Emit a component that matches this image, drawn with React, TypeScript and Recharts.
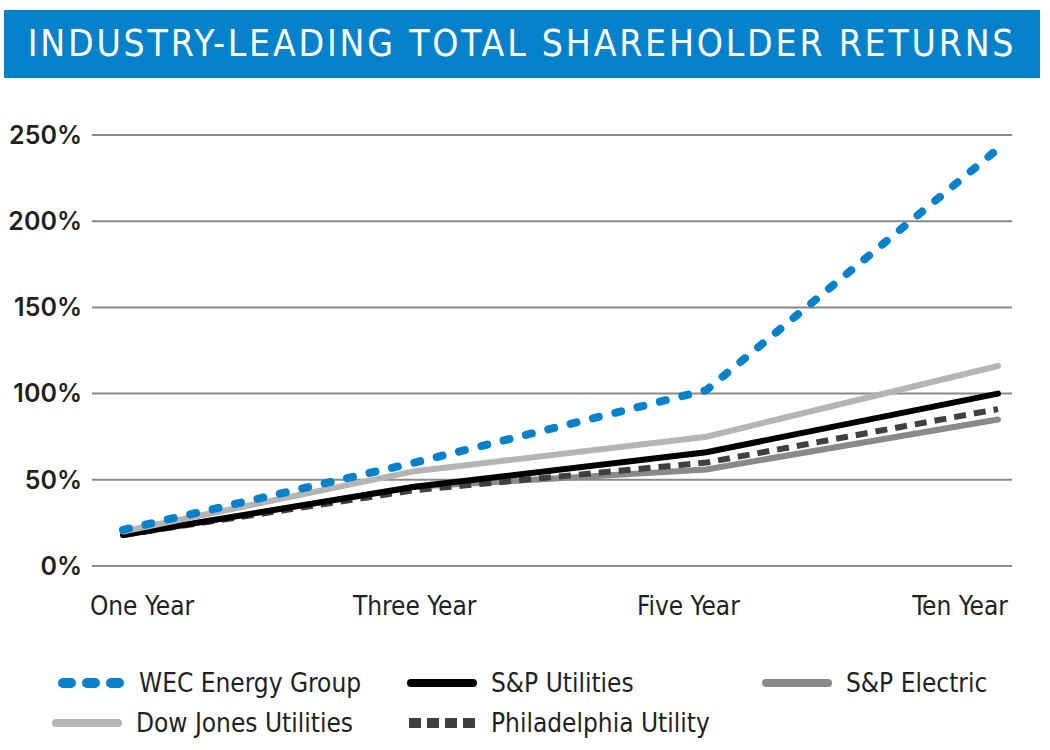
import { CartesianGrid, Line, LineChart, XAxis, YAxis } from "recharts";

const PERIODS = ["One Year", "Three Year", "Five Year", "Ten Year"];
const WEC = [21, 60, 102, 242];
const DOW_JONES = [20, 55, 75, 116];
const SP_UTILITIES = [18, 46, 66, 100];
const PHILADELPHIA = [18, 44, 60, 91];
const SP_ELECTRIC = [18, 46, 56, 85];
const Y_TICKS = [0, 50, 100, 150, 200, 250];

const BLUE = "#0481cb";
const LIGHT = "#b5b5b5";
const MID = "#8a8a8a";
const DARK = "#404040";
const INK = "#231f20";
const NARROW = '"Liberation Sans Narrow", "DejaVu Sans Condensed", "Roboto Condensed", sans-serif';

// labels in the source sit on an even grid that doesn't line up with the points
const TICK_NUDGE = [19, 0, -18, -38];

const data = PERIODS.map((p, i) => ({
  p,
  wec: WEC[i],
  dow: DOW_JONES[i],
  spu: SP_UTILITIES[i],
  phl: PHILADELPHIA[i],
  spe: SP_ELECTRIC[i],
}));

function PeriodTick(props: any) {
  const { x, y, payload, index } = props;
  return (
    <text x={x + (TICK_NUDGE[index] ?? 0)} y={y} dy={41} textAnchor="middle" fontSize={26} fill={INK} fontFamily={NARROW}>
      {payload.value}
    </text>
  );
}

function Swatch({ kind, color }: { kind: "dots" | "solid" | "squares"; color: string }) {
  return (
    <svg width={70} height={14} style={{ display: "block" }}>
      {kind === "dots" && (
        <line x1={8} y1={7} x2={64} y2={7} stroke={color} strokeWidth={10} strokeLinecap="round" strokeDasharray="8 16" />
      )}
      {kind === "solid" && <line x1={4} y1={7} x2={66} y2={7} stroke={color} strokeWidth={8} strokeLinecap="round" />}
      {kind === "squares" && (
        <line x1={2} y1={7} x2={68} y2={7} stroke={color} strokeWidth={10} strokeDasharray="12 6" />
      )}
    </svg>
  );
}

const LEGEND = [
  { name: "WEC Energy Group", kind: "dots", color: BLUE, left: 55, top: 683 },
  { name: "S&P Utilities", kind: "solid", color: "#000", left: 407, top: 683 },
  { name: "S&P Electric", kind: "solid", color: MID, left: 762, top: 683 },
  { name: "Dow Jones Utilities", kind: "solid", color: LIGHT, left: 52, top: 723 },
  { name: "Philadelphia Utility", kind: "squares", color: DARK, left: 407, top: 723 },
] as const;

export default function App() {
  return (
    <div style={{ position: "absolute", left: 0, top: 0, width: 1050, height: 750, background: "#fff", overflow: "hidden" }}>
      <div
        style={{
          position: "absolute",
          left: 4,
          top: 10,
          width: 1036,
          height: 68,
          background: BLUE,
          color: "#fff",
          fontFamily: NARROW,
          fontSize: 37,
          letterSpacing: 2.8,
          lineHeight: "68px",
          textAlign: "center",
        }}
      >
        INDUSTRY-LEADING TOTAL SHAREHOLDER RETURNS
      </div>

      <div style={{ position: "absolute", left: 0, top: 0 }}>
        <LineChart width={1050} height={640} data={data} margin={{ top: 135, right: 38, bottom: 34, left: 8 }}>
          <CartesianGrid stroke="#8a8a8a" strokeWidth={2} vertical={false} />
          <XAxis
            dataKey="p"
            axisLine={false}
            tickLine={false}
            padding={{ left: 31, right: 14 }}
            tick={<PeriodTick />}
            height={40}
            interval={0}
          />
          <YAxis
            domain={[0, 250]}
            ticks={Y_TICKS}
            axisLine={false}
            tickLine={false}
            tickMargin={4}
            width={84}
            tickFormatter={(v) => `${v}%`}
            tick={{ fontSize: 25, fill: INK, fontFamily: "Inter", fontWeight: 600 }}
          />
          <Line dataKey="spe" stroke={MID} strokeWidth={6} dot={false} isAnimationActive={false} strokeLinecap="round" />
          <Line dataKey="phl" stroke={DARK} strokeWidth={6} strokeDasharray="12 8" dot={false} isAnimationActive={false} />
          <Line dataKey="spu" stroke="#000" strokeWidth={6} dot={false} isAnimationActive={false} strokeLinecap="round" />
          <Line dataKey="dow" stroke={LIGHT} strokeWidth={6} dot={false} isAnimationActive={false} strokeLinecap="round" />
          <Line
            dataKey="wec"
            stroke={BLUE}
            strokeWidth={8}
            strokeDasharray="6 17"
            strokeLinecap="round"
            dot={false}
            isAnimationActive={false}
          />
        </LineChart>
      </div>

      {LEGEND.map((l) => (
        <div
          key={l.name}
          style={{
            position: "absolute",
            left: l.left,
            top: l.top - 20,
            height: 40,
            display: "flex",
            alignItems: "center",
            gap: 14,
            fontFamily: NARROW,
            fontSize: 26,
            color: INK,
          }}
        >
          <Swatch kind={l.kind} color={l.color} />
          <span>{l.name}</span>
        </div>
      ))}
    </div>
  );
}
